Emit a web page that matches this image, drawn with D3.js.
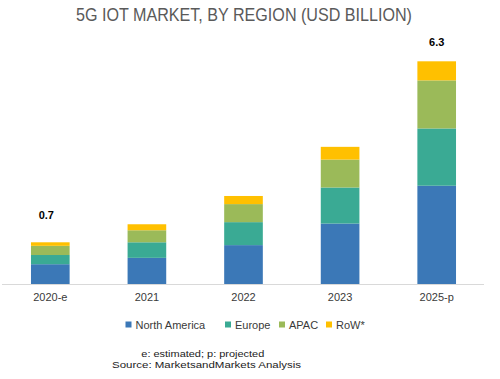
<!DOCTYPE html>
<html>
<head>
<meta charset="utf-8">
<script src="https://cdn.jsdelivr.net/npm/d3@7"></script>
<style>
  html, body { margin: 0; padding: 0; background: #fff; }
  svg { display: block; }
</style>
</head>
<body>
<svg id="chart" width="500" height="379"></svg>
<script>
// ---- data ----
const categories = ["2020-e", "2021", "2022", "2023", "2025-p"];
const seriesNames = ["North America", "Europe", "APAC", "RoW*"];
const northAmerica = [0.56, 0.74, 1.10, 1.71, 2.78];
const europe       = [0.26, 0.44, 0.65, 1.02, 1.62];
const apac         = [0.26, 0.34, 0.51, 0.79, 1.36];
const row          = [0.10, 0.17, 0.23, 0.36, 0.54];
const totalLabels  = ["0.7", "", "", "", "6.3"];
const titleText = "5G IOT MARKET, BY REGION (USD BILLION)";
const footnote1 = "e: estimated; p: projected";
const footnote2 = "Source: MarketsandMarkets Analysis";

// ---- styles ----
const colors = ["#3b78b7", "#3aaa94", "#9bba59", "#ffc000"];

const svg = d3.select("#chart");
const baseY = 284, topY = 61.3;

const table = categories.map((c, i) => ({
  cat: c,
  "North America": northAmerica[i],
  "Europe": europe[i],
  "APAC": apac[i],
  "RoW*": row[i]
}));
const stacked = d3.stack().keys(seriesNames)(table);
const totals = table.map(d => seriesNames.reduce((s, k) => s + d[k], 0));

const x = d3.scaleBand().domain(categories).range([2, 485]).paddingInner(0.6).paddingOuter(0.3);
const y = d3.scaleLinear().domain([0, d3.max(totals)]).range([baseY, topY]);

// title
svg.append("text")
  .attr("x", 244).attr("y", 20.7)
  .attr("text-anchor", "middle")
  .attr("font-family", "Liberation Sans, Arial, sans-serif")
  .attr("font-size", 18.5)
  .attr("fill", "#5a5a5a")
  .attr("textLength", 336)
  .attr("lengthAdjust", "spacingAndGlyphs")
  .text(titleText);

// bars
svg.append("g").selectAll("g")
  .data(stacked).join("g")
  .attr("fill", (d, i) => colors[i])
  .selectAll("rect")
  .data(d => d).join("rect")
  .attr("x", d => x(d.data.cat))
  .attr("width", x.bandwidth())
  .attr("y", d => y(d[1]))
  .attr("height", d => y(d[0]) - y(d[1]));

// axis
const axis = svg.append("g")
  .attr("transform", `translate(0,${baseY})`)
  .call(d3.axisBottom(x).tickSize(0).tickPadding(9));
axis.select(".domain").attr("stroke", "#d9d9d9").attr("stroke-width", 1)
  .attr("d", "M2,0.5H484");
axis.selectAll("text")
  .attr("font-family", "Liberation Sans, Arial, sans-serif")
  .attr("font-size", 11)
  .attr("fill", "#3a3a3a");

// total labels
const labelOffset = { "2020-e": 23.5, "2025-p": 15 };
svg.append("g").selectAll("text")
  .data(categories.filter((c, i) => totalLabels[i] !== ""))
  .join("text")
  .attr("x", c => x(c) + x.bandwidth() / 2 - (c === "2020-e" ? 4 : 0))
  .attr("y", c => y(totals[categories.indexOf(c)]) - labelOffset[c])
  .attr("text-anchor", "middle")
  .attr("font-family", "Liberation Sans, Arial, sans-serif")
  .attr("font-weight", "bold")
  .attr("font-size", 11)
  .attr("fill", "#000")
  .text(c => totalLabels[categories.indexOf(c)]);

// legend
const legendX = [125.5, 225, 279, 326];
const lg = svg.append("g").selectAll("g")
  .data(seriesNames).join("g")
  .attr("transform", (d, i) => `translate(${legendX[i]},0)`);
lg.append("rect")
  .attr("x", 0).attr("y", 321.5).attr("width", 6).attr("height", 6)
  .attr("fill", (d, i) => colors[i]);
lg.append("text")
  .attr("x", 10).attr("y", 329)
  .attr("font-family", "Liberation Sans, Arial, sans-serif")
  .attr("font-size", 11)
  .attr("fill", "#3a3a3a")
  .text(d => d);

// footnotes
svg.append("text")
  .attr("x", 141.3).attr("y", 356.5)
  .attr("font-family", "Liberation Sans, Arial, sans-serif")
  .attr("font-size", 9)
  .attr("fill", "#222")
  .attr("textLength", 123)
  .attr("lengthAdjust", "spacingAndGlyphs")
  .text(footnote1);
svg.append("text")
  .attr("x", 112).attr("y", 367.5)
  .attr("font-family", "Liberation Sans, Arial, sans-serif")
  .attr("font-size", 9)
  .attr("fill", "#222")
  .attr("textLength", 189)
  .attr("lengthAdjust", "spacingAndGlyphs")
  .text(footnote2);
</script>
</body>
</html>
